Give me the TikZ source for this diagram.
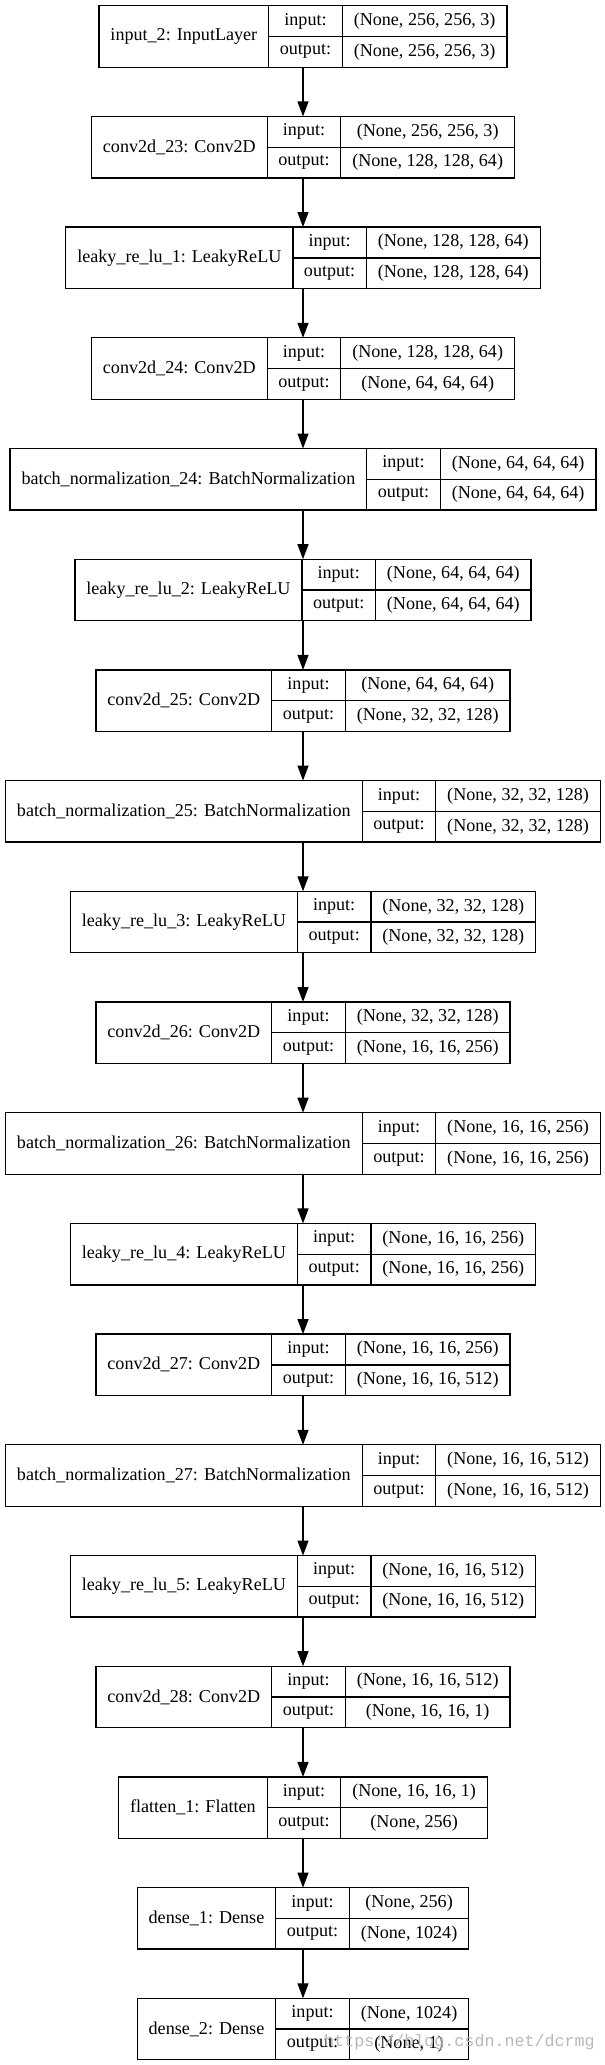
\documentclass[tikz,border=0pt]{standalone}
\usepackage{fontspec}
\setmainfont{Liberation Serif}
\newfontfamily\wmfont{Liberation Mono}
\usetikzlibrary{arrows.meta}
\newcommand\lfont{\fontsize{18.1}{21}\selectfont}
\newsavebox\boxA
\newsavebox\boxB
\newsavebox\boxC
\tikzset{
  cell/.style={draw=black, line width=1.3pt, inner sep=0pt, outer sep=0pt, font=\lfont, anchor=north west, minimum height=30.75pt},
  namecell/.style={cell, minimum height=61.5pt},
  rec/.style={inner sep=0pt, outer sep=0pt, minimum height=61.5pt},
  arr/.style={line width=1.3pt, -{Triangle[length=15pt,width=11pt]}},
  wm/.style={font=\wmfont\fontsize{16.7}{18}\selectfont, text=black!28, anchor=west, inner sep=0pt}
}
\newcommand\layer[4]{%
  \pgfinterruptpicture
    \global\setbox\boxA=\hbox{\lfont #2}%
    \global\setbox\boxB=\hbox{\lfont #3}%
    \global\setbox\boxC=\hbox{\lfont #4}%
  \endpgfinterruptpicture
  \edef\wdA{\the\wd\boxA}\edef\wdB{\the\wd\boxB}\edef\wdC{\the\wd\boxC}%
  \pgfmathsetmacro\wA{\wdA+23}%
  \pgfmathsetmacro\wB{73.5}%
  \pgfmathsetmacro\wC{max(\wdB,\wdC)+23}%
  \pgfmathsetmacro\wT{\wA+\wB+\wC}%
  \pgfmathsetmacro\xL{303-\wT/2}%
  \pgfmathsetmacro\yT{-(5.7+110.7*#1)}%
  \pgfmathsetmacro\yC{\yT-30.75}%
  \node[rec, minimum width=\wT pt] (L#1) at (303pt,\yC pt) {};
  \node[namecell, minimum width=\wA pt] (L#1n) at (\xL pt,\yT pt) {#2};
  \node[cell, minimum width=\wB pt] (L#1i) at (L#1n.north east) {input:};
  \node[cell, minimum width=\wB pt] (L#1o) at (L#1i.south west) {output:};
  \node[cell, minimum width=\wC pt] (L#1iv) at (L#1i.north east) {#3};
  \node[cell, minimum width=\wC pt] (L#1ov) at (L#1o.north east) {#4};
}
\begin{document}
\begin{tikzpicture}
\useasboundingbox (0,0) rectangle (605pt,-2065pt);
\layer{0}{input\_2: InputLayer}{(None, 256, 256, 3)}{(None, 256, 256, 3)}
\layer{1}{conv2d\_23: Conv2D}{(None, 256, 256, 3)}{(None, 128, 128, 64)}
\layer{2}{leaky\_re\_lu\_1: LeakyReLU}{(None, 128, 128, 64)}{(None, 128, 128, 64)}
\layer{3}{conv2d\_24: Conv2D}{(None, 128, 128, 64)}{(None, 64, 64, 64)}
\layer{4}{batch\_normalization\_24: BatchNormalization}{(None, 64, 64, 64)}{(None, 64, 64, 64)}
\layer{5}{leaky\_re\_lu\_2: LeakyReLU}{(None, 64, 64, 64)}{(None, 64, 64, 64)}
\layer{6}{conv2d\_25: Conv2D}{(None, 64, 64, 64)}{(None, 32, 32, 128)}
\layer{7}{batch\_normalization\_25: BatchNormalization}{(None, 32, 32, 128)}{(None, 32, 32, 128)}
\layer{8}{leaky\_re\_lu\_3: LeakyReLU}{(None, 32, 32, 128)}{(None, 32, 32, 128)}
\layer{9}{conv2d\_26: Conv2D}{(None, 32, 32, 128)}{(None, 16, 16, 256)}
\layer{10}{batch\_normalization\_26: BatchNormalization}{(None, 16, 16, 256)}{(None, 16, 16, 256)}
\layer{11}{leaky\_re\_lu\_4: LeakyReLU}{(None, 16, 16, 256)}{(None, 16, 16, 256)}
\layer{12}{conv2d\_27: Conv2D}{(None, 16, 16, 256)}{(None, 16, 16, 512)}
\layer{13}{batch\_normalization\_27: BatchNormalization}{(None, 16, 16, 512)}{(None, 16, 16, 512)}
\layer{14}{leaky\_re\_lu\_5: LeakyReLU}{(None, 16, 16, 512)}{(None, 16, 16, 512)}
\layer{15}{conv2d\_28: Conv2D}{(None, 16, 16, 512)}{(None, 16, 16, 1)}
\layer{16}{flatten\_1: Flatten}{(None, 16, 16, 1)}{(None, 256)}
\layer{17}{dense\_1: Dense}{(None, 256)}{(None, 1024)}
\layer{18}{dense\_2: Dense}{(None, 1024)}{(None, 1)}
\foreach \a [evaluate=\a as \b using int(\a+1)] in {0,...,17}
  \draw[arr] (L\a.south) -- (L\b.north);
\node[wm] (wmark) at (324pt,-2042pt) {https://blog.csdn.net/dcrmg};
\end{tikzpicture}
\end{document}
